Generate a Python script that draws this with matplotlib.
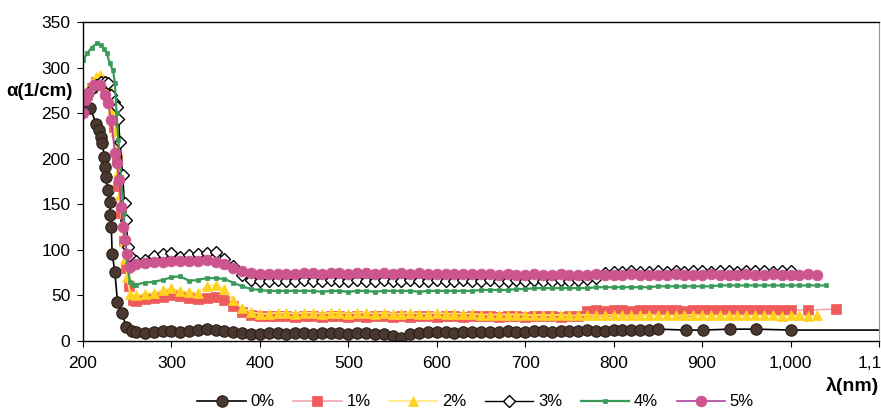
import matplotlib
matplotlib.use("Agg")
import matplotlib.pyplot as plt
from matplotlib.ticker import FuncFormatter

plt.rcParams['font.family'] = ['Liberation Sans', 'DejaVu Sans']

labels = ["0%", "1%", "2%", "3%", "4%", "5%"]

# ---- 0% ----
wl_0 = [208, 215, 218, 220, 222, 224, 225, 226, 228, 230, 231, 232, 233, 236, 239, 244, 249, 255] \
    + list(range(260, 860, 10)) + [882, 901, 932, 961, 1000, 1130]
a_0 = [256, 238, 231, 224, 217, 202, 191, 180, 166, 153, 138, 125, 96, 76, 43, 31, 15, 11,
       10, 9, 10, 11, 11, 10, 11, 12, 13, 12,
       11, 10, 9, 8, 8, 9, 9, 8, 9, 9,
       8, 9, 9, 9, 8, 9, 9, 8, 8, 6,
       3, 8, 9, 10, 10, 10, 9, 10, 10, 10,
       10, 10, 11, 10, 10, 11, 11, 10, 11, 11,
       11, 12, 11, 11, 12, 12, 12, 12, 12, 13,
       12, 12, 13, 13, 12, 12]

# ---- 1% ----
wl_1 = [205, 210, 215, 220, 225, 230, 235, 238, 240, 243, 246, 249, 252, 256] \
    + list(range(260, 1010, 10)) + [1020, 1051]
a_1 = [270, 278, 284, 285, 280, 265, 235, 200, 170, 140, 110, 80, 60, 45,
       44, 46, 47, 48, 50, 49, 47, 46, 47, 48,
       45, 38, 32, 29, 27, 27, 27, 27, 26, 27,
       27, 26, 27, 27, 26, 27, 26, 27, 27, 26,
       27, 26, 27, 27, 26, 27, 27, 26, 27, 27,
       27, 26, 27, 27, 26, 27, 27, 27, 26, 27,
       27, 33, 34, 33, 34, 34, 33, 34, 34, 34,
       34, 34, 33, 34, 34, 34, 34, 34, 34, 34,
       34, 34, 34, 34, 34,
       34, 35]

# ---- 2% ----
wl_2 = [205, 210, 215, 219, 223, 227, 230, 233, 236, 238, 240, 242, 244, 246, 248, 250, 253] \
    + list(range(260, 1040, 10))
a_2 = [275, 283, 290, 292, 288, 282, 270, 255, 230, 210, 185, 160, 130, 110, 90, 70, 52,
       50, 52, 53, 56, 58, 55, 54, 53, 60, 61,
       57, 45, 36, 32, 30, 30, 31, 31, 30, 31,
       31, 30, 31, 31, 30, 31, 31, 30, 31, 30,
       30, 31, 30, 30, 31, 30, 30, 30, 30, 29,
       29, 29, 29, 29, 29, 28, 29, 28, 29, 28,
       28, 29, 28, 28, 29, 28, 28, 28, 29, 28,
       28, 28, 28, 29, 28, 28, 28, 28, 28, 28,
       28, 28, 28, 27, 28, 28, 27, 28]

# ---- 3% ----
wl_3 = [200, 205, 210, 215, 220, 225, 228, 232, 235, 238, 240, 242, 245, 247, 249, 251, 254] \
    + list(range(260, 1010, 10))
a_3 = [262, 270, 276, 281, 284, 284, 283, 270, 262, 257, 244, 218, 182, 151, 133, 103, 92,
       88, 89, 93, 95, 97, 92, 94, 95, 97, 98,
       90, 82, 72, 67, 66, 66, 67, 66, 66, 67,
       66, 66, 67, 66, 66, 67, 66, 66, 67, 66,
       66, 67, 66, 66, 67, 66, 66, 67, 66, 66,
       67, 66, 66, 67, 66, 67, 66, 66, 67, 66,
       67, 68, 69, 75, 76, 76, 77, 76, 76, 77,
       76, 77, 76, 77, 77, 76, 77, 77, 76, 77,
       77, 77, 76, 77, 77]

# ---- 4% ----
wl_4 = [200, 205, 210, 216, 220, 224, 227, 230, 234, 236, 238, 240, 243, 246, 248, 250, 253, 256] \
    + list(range(260, 1050, 10))
a_4 = [308, 316, 322, 327, 325, 320, 316, 305, 297, 283, 250, 220, 180, 140, 110, 85, 65, 62,
       62, 64, 65, 67, 70, 71, 66, 67, 69, 69,
       68, 64, 60, 57, 56, 55, 55, 55, 55, 55,
       55, 54, 55, 55, 54, 55, 55, 54, 55, 55,
       55, 55, 54, 55, 55, 55, 55, 55, 55, 56,
       56, 56, 56, 57, 57, 58, 58, 58, 58, 58,
       58, 58, 59, 59, 59, 59, 59, 59, 59, 60,
       60, 60, 60, 60, 60, 60, 61, 61, 61, 61,
       61, 61, 61, 61, 61, 61, 61, 61, 61]

# ---- 5% ----
wl_5 = [200, 202, 206, 212, 219, 225, 228, 232, 236, 238, 241, 243, 245, 247, 250, 253] \
    + list(range(260, 1040, 10))
a_5 = [250, 264, 272, 281, 281, 270, 261, 242, 206, 195, 177, 147, 125, 111, 96, 81,
       84, 86, 87, 87, 88, 88, 88, 88, 89, 87,
       84, 80, 77, 75, 74, 73, 74, 74, 74, 75,
       75, 74, 75, 75, 74, 75, 75, 74, 75, 74,
       75, 74, 75, 74, 74, 73, 74, 73, 73, 73,
       73, 72, 73, 72, 72, 73, 72, 72, 73, 72,
       72, 72, 73, 72, 72, 72, 73, 72, 72, 72,
       72, 73, 72, 72, 72, 73, 72, 72, 72, 73,
       72, 72, 73, 72, 72, 72, 73, 72]

x_ticks = [200, 300, 400, 500, 600, 700, 800, 900, 1000, 1100]
y_ticks = [0, 50, 100, 150, 200, 250, 300, 350]

styles = [
    dict(color="black", lw=1.2, marker="o", ms=8.2, mfc="#4a3830", mec="#2a1e18", mew=0.8),
    dict(color="#f4a6b0", lw=1.2, marker="s", ms=7.0, mfc="#ef5b5b", mec="#ef5b5b", mew=0.5),
    dict(color="#ffe680", lw=1.2, marker="^", ms=7.0, mfc="#ffd21f", mec="#ffd21f", mew=0.5),
    dict(color="black", lw=1.0, marker="D", ms=6.0, mfc="white", mec="black", mew=1.0),
    dict(color="#3a9a5a", lw=1.6, marker="s", ms=2.5, mfc="#3a9a5a", mec="#3a9a5a", mew=0.5),
    dict(color="#b0409a", lw=1.2, marker="o", ms=7.8, mfc="#cc5590", mec="#cc5590", mew=0.5),
]

fig = plt.figure(figsize=(8.81, 4.12), dpi=100)
ax = fig.add_axes([0.0942, 0.1723, 0.9035, 0.7743])

series = [(wl_0, a_0), (wl_1, a_1), (wl_2, a_2), (wl_3, a_3), (wl_4, a_4), (wl_5, a_5)]
for (x, y), lab, st in zip(series, labels, styles):
    ax.plot(x, y, label=lab, **st)

ax.set_xlim(200, 1100)
ax.set_ylim(0, 350)
ax.set_xticks(x_ticks)
ax.set_yticks(y_ticks)
ax.xaxis.set_major_formatter(FuncFormatter(lambda v, p: f"{v:,.0f}"))
ax.tick_params(axis="both", direction="out", length=4, width=0.8, labelsize=12.5, colors="black")
ax.tick_params(axis="x", pad=7)
ax.tick_params(axis="y", pad=5)
for s in ["left", "bottom", "top"]:
    ax.spines[s].set_color("black")
    ax.spines[s].set_linewidth(1.0)
ax.spines["right"].set_color("#999999")
ax.spines["right"].set_linewidth(0.8)

fig.text(6 / 881, 1 - 92 / 412, "α(1/cm)", fontsize=13.5, fontweight="bold",
         ha="left", va="center")
fig.text(826 / 881, 1 - 386 / 412, "λ(nm)", fontsize=14, fontweight="bold",
         ha="left", va="center")

fig.legend(loc="center", bbox_to_anchor=(0.54, 1 - 402 / 412), ncol=6, frameon=False,
           fontsize=12, handlelength=2.9, columnspacing=1.1, handletextpad=0.3)

fig.savefig("out.png", dpi=100)
